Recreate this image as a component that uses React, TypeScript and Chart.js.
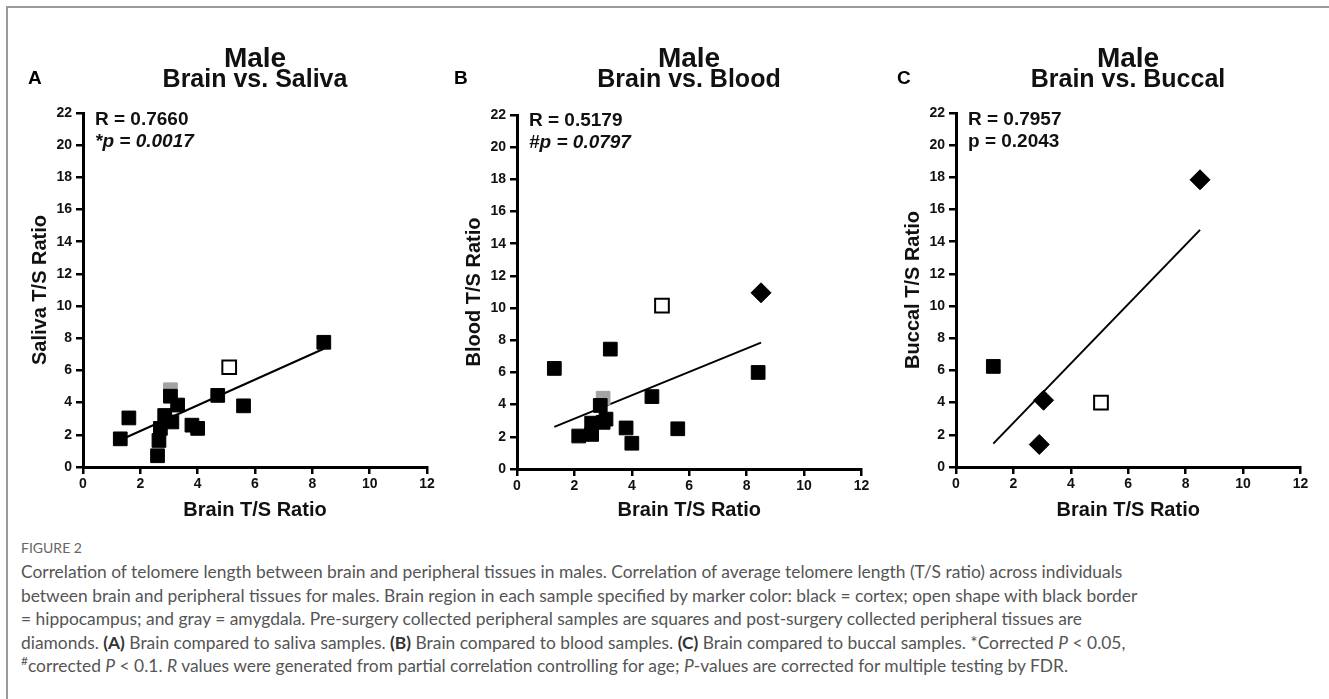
import React, { useEffect, useRef } from 'react';
import { Chart, registerables } from 'chart.js';

Chart.register(...registerables);

const FONT = '"Liberation Sans", Arial, Helvetica, sans-serif';
const CAPTION_FONT = 'Lato, "Open Sans", sans-serif';

// Axis ranges / ticks
const X_MIN = 0;
const X_MAX = 12;
const X_STEP = 2;
const Y_MIN = 0;
const Y_MAX = 22;
const Y_STEP = 2;

// ---------- Panel A: Brain vs. Saliva ----------
const salivaCortexX = [1.3, 1.6, 2.6, 2.65, 2.7, 2.85, 3.1, 3.05, 3.3, 3.8, 4.0, 4.7, 5.6, 8.4];
const salivaCortexY = [1.75, 3.05, 0.7, 1.65, 2.4, 3.2, 2.8, 4.4, 3.85, 2.6, 2.4, 4.45, 3.8, 7.75];
const salivaAmygdalaX = [3.05];
const salivaAmygdalaY = [4.8];
const salivaHippoX = [5.1];
const salivaHippoY = [6.2];
const salivaFitX = [1.3, 8.4];
const salivaFitY = [1.68, 7.35];

// ---------- Panel B: Brain vs. Blood ----------
const bloodCortexX = [1.3, 2.15, 2.6, 2.6, 2.9, 3.0, 3.1, 3.25, 3.8, 4.0, 4.7, 5.6, 8.4];
const bloodCortexY = [6.25, 2.05, 2.15, 2.85, 3.95, 2.9, 3.1, 7.45, 2.55, 1.6, 4.5, 2.5, 6.0];
const bloodPostX = [8.5];
const bloodPostY = [10.95];
const bloodAmygdalaX = [3.0];
const bloodAmygdalaY = [4.4];
const bloodHippoX = [5.05];
const bloodHippoY = [10.15];
const bloodFitX = [1.3, 8.5];
const bloodFitY = [2.62, 7.85];

// ---------- Panel C: Brain vs. Buccal ----------
const buccalCortexX = [1.3];
const buccalCortexY = [6.25];
const buccalPostX = [2.9, 3.05, 8.5];
const buccalPostY = [1.4, 4.15, 17.85];
const buccalHippoX = [5.05];
const buccalHippoY = [4.0];
const buccalFitX = [1.3, 8.5];
const buccalFitY = [1.45, 14.74];

const zip = (xs: number[], ys: number[]) => xs.map((x, i) => ({ x, y: ys[i] }));

const SQ_R = 9.7;
const DI_R = 10;
const GRAY = '#a3a3a3';

function squares(xs: number[], ys: number[], color: string) {
  return {
    data: zip(xs, ys),
    pointStyle: 'rect',
    pointRadius: SQ_R,
    pointHoverRadius: SQ_R,
    backgroundColor: color,
    borderColor: color,
    borderWidth: 1,
    showLine: false,
  };
}
function diamonds(xs: number[], ys: number[]) {
  return {
    data: zip(xs, ys),
    pointStyle: 'rectRot',
    pointRadius: DI_R,
    pointHoverRadius: DI_R,
    backgroundColor: '#000',
    borderColor: '#000',
    borderWidth: 1,
    showLine: false,
  };
}
function openSquares(xs: number[], ys: number[]) {
  return {
    data: zip(xs, ys),
    pointStyle: 'rect',
    pointRadius: SQ_R,
    pointHoverRadius: SQ_R,
    backgroundColor: '#fff',
    borderColor: '#000',
    borderWidth: 2,
    showLine: false,
  };
}
function fitLine(xs: number[], ys: number[]) {
  return {
    data: zip(xs, ys),
    showLine: true,
    pointRadius: 0,
    pointHoverRadius: 0,
    borderColor: '#000',
    borderWidth: 2,
    backgroundColor: '#000',
    fill: false,
  };
}

type PanelCfg = {
  canvasLeft: number;
  canvasWidth: number;
  areaLeft: number;
  areaRight: number;
  areaTop: number;
  areaBottom: number;
  yTitle: string;
  datasets: any[];
};

const CANVAS_H = 535;
const Y_SCALE_W = 63;
const PAD_B = 8;

const panels: PanelCfg[] = [
  {
    canvasLeft: 0,
    canvasWidth: 445,
    areaLeft: 83,
    areaRight: 427,
    areaTop: 113,
    areaBottom: 467,
    yTitle: 'Saliva T/S Ratio',
    datasets: [
      openSquares(salivaHippoX, salivaHippoY),
      squares(salivaCortexX, salivaCortexY, '#000'),
      squares(salivaAmygdalaX, salivaAmygdalaY, GRAY),
      fitLine(salivaFitX, salivaFitY),
    ],
  },
  {
    canvasLeft: 445,
    canvasWidth: 440,
    areaLeft: 517,
    areaRight: 861.5,
    areaTop: 115,
    areaBottom: 469,
    yTitle: 'Blood T/S Ratio',
    datasets: [
      openSquares(bloodHippoX, bloodHippoY),
      squares(bloodCortexX, bloodCortexY, '#000'),
      diamonds(bloodPostX, bloodPostY),
      squares(bloodAmygdalaX, bloodAmygdalaY, GRAY),
      fitLine(bloodFitX, bloodFitY),
    ],
  },
  {
    canvasLeft: 885,
    canvasWidth: 444,
    areaLeft: 956,
    areaRight: 1300.5,
    areaTop: 113,
    areaBottom: 467,
    yTitle: 'Buccal T/S Ratio',
    datasets: [
      openSquares(buccalHippoX, buccalHippoY),
      squares(buccalCortexX, buccalCortexY, '#000'),
      diamonds(buccalPostX, buccalPostY),
      fitLine(buccalFitX, buccalFitY),
    ],
  },
];

function Panel({ cfg }: { cfg: PanelCfg }) {
  const ref = useRef<HTMLCanvasElement | null>(null);
  useEffect(() => {
    if (!ref.current) return;
    const padLeft = cfg.areaLeft - cfg.canvasLeft - Y_SCALE_W;
    const padRight = cfg.canvasLeft + cfg.canvasWidth - cfg.areaRight;
    const xScaleH = CANVAS_H - PAD_B - cfg.areaBottom;
    const tickFont = { family: FONT, size: 14, weight: 'bold' as const };
    const titleFont = { family: FONT, size: 20, weight: 'bold' as const };
    const chart = new Chart(ref.current, {
      type: 'scatter',
      data: { datasets: cfg.datasets },
      options: {
        animation: false,
        responsive: false,
        maintainAspectRatio: false,
        devicePixelRatio: 1,
        events: [],
        layout: {
          padding: { left: padLeft, right: padRight, top: cfg.areaTop, bottom: PAD_B },
        },
        plugins: {
          legend: { display: false },
          tooltip: { enabled: false },
          title: { display: false },
        },
        scales: {
          x: {
            type: 'linear',
            min: X_MIN,
            max: X_MAX,
            ticks: { stepSize: X_STEP, color: '#111', font: tickFont, padding: 2, maxRotation: 0 },
            grid: {
              drawOnChartArea: false,
              drawTicks: true,
              color: '#000',
              tickColor: '#000',
              tickLength: 7,
              lineWidth: 2.5,
              tickWidth: 2.5,
            },
            border: { display: true, color: '#000', width: 3 },
            title: {
              display: true,
              text: 'Brain T/S Ratio',
              color: '#111',
              font: titleFont,
              padding: { top: 0, bottom: 5 },
            },
            afterFit: (s: any) => {
              s.height = xScaleH;
            },
          },
          y: {
            type: 'linear',
            min: Y_MIN,
            max: Y_MAX,
            ticks: { stepSize: Y_STEP, color: '#111', font: tickFont, padding: 4 },
            grid: {
              drawOnChartArea: false,
              drawTicks: true,
              color: '#000',
              tickColor: '#000',
              tickLength: 7,
              lineWidth: 2.5,
              tickWidth: 2.5,
            },
            border: { display: true, color: '#000', width: 3 },
            title: {
              display: true,
              text: cfg.yTitle,
              color: '#111',
              font: titleFont,
              padding: { top: 8, bottom: 0 },
            },
            afterFit: (s: any) => {
              s.width = Y_SCALE_W;
            },
          },
        },
      } as any,
    });
    return () => chart.destroy();
  }, [cfg]);
  return (
    <canvas
      ref={ref}
      width={cfg.canvasWidth}
      height={CANVAS_H}
      style={{
        position: 'absolute',
        left: cfg.canvasLeft,
        top: 0,
        width: cfg.canvasWidth,
        height: CANVAS_H,
      }}
    />
  );
}

const abs = (left: number, top: number, extra: React.CSSProperties = {}): React.CSSProperties => ({
  position: 'absolute',
  left,
  top,
  whiteSpace: 'nowrap',
  ...extra,
});

const panelTitles = [
  { letter: 'A', letterX: 28, center: 255, sub: 'Brain vs. Saliva', r: 'R = 0.7660', p: '*p = 0.0017', pItalic: true, textX: 95, dy: 0 },
  { letter: 'B', letterX: 454, center: 689, sub: 'Brain vs. Blood', r: 'R = 0.5179', p: '#p = 0.0797', pItalic: true, textX: 529, dy: 1 },
  { letter: 'C', letterX: 897, center: 1128, sub: 'Brain vs. Buccal', r: 'R = 0.7957', p: 'p = 0.2043', pItalic: false, textX: 968, dy: 0 },
];

const CAP_TOP = 560;
const CAP_STEP = 23.5;

export default function App() {
  useEffect(() => {
    document.body.style.margin = '0';
  }, []);
  const cap: React.CSSProperties = {
    fontFamily: CAPTION_FONT,
    fontSize: 17.4,
    color: '#555',
    lineHeight: '23.5px',
  };
  const bold: React.CSSProperties = { fontWeight: 700, color: '#333' };
  return (
    <div
      style={{
        position: 'absolute',
        left: 0,
        top: 0,
        width: 1329,
        height: 699,
        overflow: 'hidden',
        background: '#fff',
      }}
    >
      {/* frame */}
      <div
        style={{
          position: 'absolute',
          left: 6,
          top: 6,
          width: 1400,
          height: 800,
          borderTop: '2px solid #9a9a9a',
          borderLeft: '2px solid #9a9a9a',
        }}
      />
      {panels.map((p, i) => (
        <Panel key={i} cfg={p} />
      ))}
      {panelTitles.map((t, i) => (
        <React.Fragment key={i}>
          <div style={abs(t.letterX, 68, { fontFamily: FONT, fontWeight: 700, fontSize: 19, lineHeight: '19px', color: '#000' })}>
            {t.letter}
          </div>
          <div
            style={abs(t.center - 150, 44, {
              width: 300,
              textAlign: 'center',
              fontFamily: FONT,
              fontWeight: 700,
              fontSize: 28,
              lineHeight: '28px',
              color: '#111',
            })}
          >
            Male
          </div>
          <div
            style={abs(t.center - 150, 66, {
              width: 300,
              textAlign: 'center',
              fontFamily: FONT,
              fontWeight: 700,
              fontSize: 25,
              lineHeight: '25px',
              color: '#111',
            })}
          >
            {t.sub}
          </div>
          <div style={abs(t.textX, 108 + t.dy, { fontFamily: FONT, fontWeight: 700, fontSize: 19, lineHeight: '22px', color: '#111' })}>
            {t.r}
          </div>
          <div
            style={abs(t.textX, 130 + t.dy, {
              fontFamily: FONT,
              fontWeight: 700,
              fontSize: 19,
              lineHeight: '22px',
              color: '#111',
              fontStyle: t.pItalic ? 'italic' : 'normal',
            })}
          >
            {t.p}
          </div>
        </React.Fragment>
      ))}
      {/* caption */}
      <div style={abs(21, 538, { fontFamily: CAPTION_FONT, fontSize: 14, color: '#666', lineHeight: '20px' })}>FIGURE 2</div>
      <div style={abs(21, CAP_TOP, cap)}>
        Correlation of telomere length between brain and peripheral tissues in males. Correlation of average telomere length (T/S ratio) across individuals
      </div>
      <div style={abs(21, CAP_TOP + CAP_STEP, cap)}>
        between brain and peripheral tissues for males. Brain region in each sample specified by marker color: black = cortex; open shape with black border
      </div>
      <div style={abs(21, CAP_TOP + CAP_STEP * 2, cap)}>
        = hippocampus; and gray = amygdala. Pre-surgery collected peripheral samples are squares and post-surgery collected peripheral tissues are
      </div>
      <div style={abs(21, CAP_TOP + CAP_STEP * 3, cap)}>
        diamonds. <span style={bold}>(A)</span> Brain compared to saliva samples. <span style={bold}>(B)</span> Brain compared to blood samples.{' '}
        <span style={bold}>(C)</span> Brain compared to buccal samples. *Corrected <i>P</i> &lt; 0.05,
      </div>
      <div style={abs(21, CAP_TOP + CAP_STEP * 4, cap)}>
        <sup style={{ fontSize: 12, lineHeight: 0 }}>#</sup>corrected <i>P</i> &lt; 0.1. <i>R</i> values were generated from partial correlation controlling for
        age; <i>P</i>-values are corrected for multiple testing by FDR.
      </div>
    </div>
  );
}
